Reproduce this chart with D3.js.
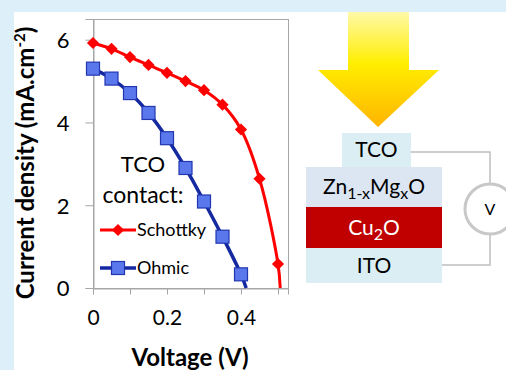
<!DOCTYPE html>
<html>
<head>
<meta charset="utf-8">
<script src="https://cdn.jsdelivr.net/npm/d3@7"></script>
<style>
  body { margin: 0; background: #ddf0f9; }
  svg { display: block; font-family: Lato, "Open Sans", sans-serif; }
</style>
</head>
<body>
<div id="chart"></div>
<script>
// J-V data
var voltage  = [0, 0.05, 0.1, 0.15, 0.2, 0.25, 0.3, 0.35, 0.4, 0.45, 0.5];
var schottky = [5.92, 5.78, 5.58, 5.39, 5.2, 5.0, 4.78, 4.43, 3.83, 2.64, 0.58];
var ohmic    = [5.30, 5.06, 4.71, 4.23, 3.62, 2.90, 2.09, 1.24, 0.33];
// where each curve meets J = 0
var vocSchottky = 0.506,
    vocOhmic = 0.414;
var xTicks = [0, 0.2, 0.4],
    xMinor = [0, 0.1, 0.2, 0.3, 0.4, 0.5],
    yTicks = [0, 2, 4, 6];
var layers = ["TCO", "Zn1-xMgxO", "Cu2O", "ITO"];

var width = 506, height = 370;

var svg = d3.select("#chart").append("svg")
            .attr("width", width)
            .attr("height", height);

// white panel over the blue background
svg.append("rect")
   .attr("x", 14).attr("y", 12)
   .attr("width", width - 14).attr("height", height - 12)
   .style("fill", "#fff");

var margin = {top: 19, left: 93},
    gwidth = 195,
    gheight = 269;

var xScale = d3.scaleLinear().domain([0, 0.527]).range([0, gwidth]);
var yScale = d3.scaleLinear().domain([0, 6.5]).range([gheight, 0]);

var g = svg.append("g")
           .attr("transform", "translate(" + margin.left + "," + margin.top + ")");

// plot frame
g.append("rect")
 .attr("x", 0.5).attr("y", 0.5)
 .attr("width", gwidth).attr("height", gheight)
 .style("fill", "none")
 .style("stroke", "#a6a6a6");

// axes
var xAxisMinor = d3.axisBottom(xScale).tickValues(xMinor).tickSize(6).tickFormat("");
var xAxis = d3.axisBottom(xScale).tickValues(xTicks).tickSize(0).tickPadding(26)
              .tickFormat(function(d) { return d === 0 ? "0" : d3.format(".1f")(d); });
var yAxis = d3.axisLeft(yScale).tickValues(yTicks).tickSize(8).tickPadding(16)
              .tickFormat(d3.format("d"));

g.append("g").attr("class", "x axis")
 .attr("transform", "translate(0," + (gheight + 0.5) + ")")
 .call(xAxisMinor);
g.append("g").attr("class", "x axis labels")
 .attr("transform", "translate(0," + (gheight + 0.5) + ")")
 .call(xAxis);
g.append("g").attr("class", "y axis")
 .attr("transform", "translate(0.5,0)")
 .call(yAxis);

g.selectAll(".axis path").style("stroke", "#a6a6a6");
g.selectAll(".axis line").style("stroke", "#a6a6a6");
g.selectAll(".axis text")
 .attr("font-family", "Lato, sans-serif")
 .attr("font-size", 21)
 .style("font-size", "21px")
 .style("fill", "#000");
g.selectAll(".labels path").remove();
g.selectAll(".labels text").attr("dy", "0.71em").attr("y", 22);
g.selectAll(".y.axis text").attr("dy", "0.36em").style("font-size", "22px");

// axis titles
svg.append("text")
   .attr("transform", "translate(34,163) rotate(-90)")
   .attr("text-anchor", "middle")
   .style("font-size", "24px")
   .style("font-weight", "bold")
   .html("Current density (mA.cm<tspan dy='-9' font-size='15px'>-2</tspan><tspan dy='9'>)</tspan>");

svg.append("text")
   .attr("x", 190).attr("y", 366)
   .attr("text-anchor", "middle")
   .style("font-size", "24px")
   .style("font-weight", "bold")
   .text("Voltage (V)");

// curves
var line = d3.line()
             .x(function(d) { return xScale(d[0]); })
             .y(function(d) { return yScale(d[1]); })
             .curve(d3.curveCatmullRom);

var sPts = voltage.map(function(v, i) { return [v, schottky[i]]; }),
    oPts = ohmic.map(function(j, i) { return [voltage[i], j]; });

g.append("path")
 .datum(sPts.concat([[vocSchottky, 0]]))
 .attr("d", line)
 .style("fill", "none")
 .style("stroke", "#ff0000")
 .style("stroke-width", 3);

g.append("path")
 .datum(oPts.concat([[vocOhmic, 0]]))
 .attr("d", line)
 .style("fill", "none")
 .style("stroke", "#1428a0")
 .style("stroke-width", 3.5);

var diamond = d3.symbol().type(d3.symbolDiamond2).size(95);

g.selectAll(".sdot")
 .data(sPts)
 .enter()
 .append("path")
 .attr("class", "sdot")
 .attr("transform", function(d) { return "translate(" + xScale(d[0]) + "," + yScale(d[1]) + ")"; })
 .attr("d", diamond)
 .style("fill", "#ff0000");

g.selectAll(".odot")
 .data(oPts)
 .enter()
 .append("rect")
 .attr("class", "odot")
 .attr("x", function(d) { return xScale(d[0]) - 6.5; })
 .attr("y", function(d) { return yScale(d[1]) - 6.5; })
 .attr("width", 13).attr("height", 13)
 .style("fill", "#5a78ec")
 .style("stroke", "#2236b0")
 .style("stroke-width", 1.2);

// legend
svg.append("text")
   .attr("x", 143).attr("y", 172)
   .attr("text-anchor", "middle")
   .style("font-size", "22px")
   .text("TCO");
svg.append("text")
   .attr("x", 143).attr("y", 203)
   .attr("text-anchor", "middle")
   .style("font-size", "23px")
   .text("contact:");

var legend = [
  {name: "Schottky", y: 230, color: "#ff0000"},
  {name: "Ohmic", y: 268, color: "#1428a0"}
];

var leg = svg.selectAll(".leg")
             .data(legend)
             .enter()
             .append("g")
             .attr("class", "leg")
             .attr("transform", function(d) { return "translate(100," + d.y + ")"; });

leg.append("line")
   .attr("x1", 0).attr("x2", 36)
   .style("stroke", function(d) { return d.color; })
   .style("stroke-width", function(d, i) { return i ? 3.5 : 3; });

leg.filter(function(d, i) { return i === 0; })
   .append("path")
   .attr("transform", "translate(18,0)")
   .attr("d", diamond)
   .style("fill", "#ff0000");

leg.filter(function(d, i) { return i === 1; })
   .append("rect")
   .attr("x", 11.5).attr("y", -6.5)
   .attr("width", 13).attr("height", 13)
   .style("fill", "#5a78ec")
   .style("stroke", "#2236b0")
   .style("stroke-width", 1.2);

leg.append("text")
   .attr("x", 37).attr("y", 6)
   .style("font-size", "18px")
   .text(function(d) { return d.name; });

// ---- device sketch on the right ----
var defs = svg.append("defs");
var grad = defs.append("linearGradient")
               .attr("id", "sun")
               .attr("x1", 0).attr("y1", 0)
               .attr("x2", 0).attr("y2", 1);
grad.append("stop").attr("offset", "0%").attr("stop-color", "#fff9a8");
grad.append("stop").attr("offset", "45%").attr("stop-color", "#ffee00");
grad.append("stop").attr("offset", "100%").attr("stop-color", "#ffb400");

svg.append("path")
   .attr("d", "M348,12 L409,12 L409,70 L439,70 L378,127 L318,70 L348,70 Z")
   .style("fill", "url(#sun)");

// wires
svg.append("path")
   .attr("d", "M411,152 H490 V265 H442")
   .style("fill", "none")
   .style("stroke", "#bfbfbf")
   .style("stroke-width", 1.5);

svg.append("circle")
   .attr("cx", 490).attr("cy", 209).attr("r", 25)
   .style("fill", "#fff")
   .style("stroke", "#c8c8c8")
   .style("stroke-width", 3);
svg.append("text")
   .attr("x", 490).attr("y", 215)
   .attr("text-anchor", "middle")
   .style("font-size", "16px")
   .text("V");

// layer stack
var stack = [
  {x: 342, y: 133, w: 69, h: 34, fill: "#daeef3", color: "#000"},
  {x: 306, y: 167, w: 136, h: 40, fill: "#dce6f2", color: "#000"},
  {x: 306, y: 207, w: 136, h: 41, fill: "#c00000", color: "#fff"},
  {x: 306, y: 248, w: 136, h: 35, fill: "#daeef3", color: "#000"}
];

svg.selectAll(".layer")
   .data(stack)
   .enter()
   .append("rect")
   .attr("class", "layer")
   .attr("x", function(d) { return d.x; })
   .attr("y", function(d) { return d.y; })
   .attr("width", function(d) { return d.w; })
   .attr("height", function(d) { return d.h; })
   .style("fill", function(d) { return d.fill; });

var labelText = svg.selectAll(".ltext")
   .data(stack)
   .enter()
   .append("text")
   .attr("class", "ltext")
   .attr("x", function(d) { return d.x + d.w / 2; })
   .attr("y", function(d) { return d.y + d.h / 2 + 7; })
   .attr("text-anchor", "middle")
   .style("font-size", "21px")
   .style("fill", function(d) { return d.color; });

labelText.each(function(d, i) {
  var t = d3.select(this);
  if (i === 1) {
    t.append("tspan").text("Zn");
    t.append("tspan").attr("dy", 5).style("font-size", "16px").text("1-x");
    t.append("tspan").attr("dy", -5).text("Mg");
    t.append("tspan").attr("dy", 5).style("font-size", "16px").text("x");
    t.append("tspan").attr("dy", -5).text("O");
  } else if (i === 2) {
    t.append("tspan").text("Cu");
    t.append("tspan").attr("dy", 5).style("font-size", "16px").text("2");
    t.append("tspan").attr("dy", -5).text("O");
  } else {
    t.text(layers[i]);
  }
});
</script>
</body>
</html>
